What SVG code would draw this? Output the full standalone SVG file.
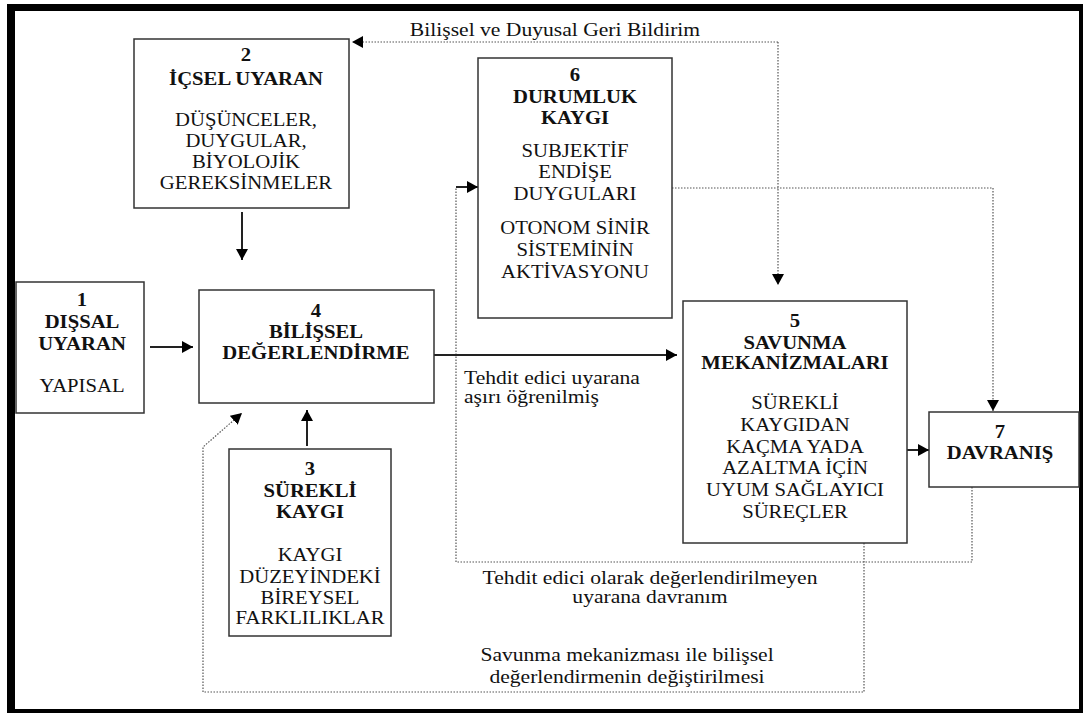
<svg xmlns="http://www.w3.org/2000/svg" width="1083" height="713" viewBox="0 0 1083 713">
<style>
.bx{fill:#fff;stroke:#333;stroke-width:1.5}
.t{font-family:"Liberation Serif","Times New Roman",serif;font-size:18px;fill:#111;text-anchor:middle}
.b{font-weight:bold}
.lb{font-family:"Liberation Serif","Times New Roman",serif;font-size:18px;fill:#111}
.sl{fill:none;stroke:#222;stroke-width:2}
.dl{fill:none;stroke:#555;stroke-width:1.2;stroke-dasharray:1.5 1.5}
</style>
<defs>
<marker id="ah" markerUnits="userSpaceOnUse" markerWidth="12" markerHeight="12" refX="11" refY="6" orient="auto">
<path d="M0,0 L11,6 L0,12 z" fill="#000"/>
</marker>
</defs>
<rect x="0" y="0" width="1083" height="713" fill="#fff"/>
<path d="M7,4 H1083 V713 H7 Z M15,11 V709 H1079 V11 Z" fill="#000" fill-rule="evenodd"/>

<g id="connectors">
<path class="dl" d="M778,42 H352" marker-end="url(#ah)"/>
<path class="dl" d="M778,42 V285" marker-end="url(#ah)"/>
<path class="dl" d="M672,188 H993 V411" marker-end="url(#ah)"/>
<path class="dl" d="M972,487 V562 H456 V187"/>
<path class="sl" d="M456,187 H478" marker-end="url(#ah)"/>
<path class="dl" d="M864,543 V692 H203 V447 L242,413" marker-end="url(#ah)"/>
<path class="sl" d="M242,212 V260" marker-end="url(#ah)"/>
<path class="sl" d="M150,347 H193" marker-end="url(#ah)"/>
<path class="sl" d="M434,355 H677" marker-end="url(#ah)"/>
<path class="sl" d="M307,446 V410" marker-end="url(#ah)"/>
<path class="sl" d="M907,450 H929" marker-end="url(#ah)"/>
<g transform="translate(555,0) scale(1.2,1)"><text class="lb" x="0" y="36" text-anchor="middle">Bilişsel ve Duyusal Geri Bildirim</text></g>
<g transform="translate(464,0) scale(1.2,1)">
<text class="lb" x="0" y="384">Tehdit edici uyarana</text>
<text class="lb" x="0" y="403">aşırı öğrenilmiş</text>
</g>
<g transform="translate(650,0) scale(1.2,1)">
<text class="lb" x="0" y="584" text-anchor="middle">Tehdit edici olarak değerlendirilmeyen</text>
<text class="lb" x="0" y="603" text-anchor="middle">uyarana davranım</text>
</g>
<g transform="translate(627,0) scale(1.2,1)">
<text class="lb" x="0" y="661" text-anchor="middle">Savunma mekanizması ile bilişsel</text>
<text class="lb" x="0" y="683" text-anchor="middle">değerlendirmenin değiştirilmesi</text>
</g>
</g>

<g id="node1">
<rect class="bx" x="16" y="282" width="128" height="131"/>
<g transform="translate(82,0) scale(1.15,1)">
<text class="t b" x="0" y="306">1</text>
<text class="t b" x="0" y="328">DIŞSAL</text>
<text class="t b" x="0" y="350">UYARAN</text>
<text class="t" x="0" y="392">YAPISAL</text>
</g>
</g>

<g id="node2">
<rect class="bx" x="134" y="39" width="215" height="169"/>
<g transform="translate(246,0) scale(1.15,1)">
<text class="t b" x="0" y="61">2</text>
<text class="t b" x="0" y="85">İÇSEL UYARAN</text>
<text class="t" x="0" y="126">DÜŞÜNCELER,</text>
<text class="t" x="0" y="147">DUYGULAR,</text>
<text class="t" x="0" y="168">BİYOLOJİK</text>
<text class="t" x="0" y="189">GEREKSİNMELER</text>
</g>
</g>

<g id="node3">
<rect class="bx" x="229" y="449" width="162" height="187"/>
<g transform="translate(310,0) scale(1.15,1)">
<text class="t b" x="0" y="475">3</text>
<text class="t b" x="0" y="497">SÜREKLİ</text>
<text class="t b" x="0" y="518">KAYGI</text>
<text class="t" x="0" y="561">KAYGI</text>
<text class="t" x="0" y="583">DÜZEYİNDEKİ</text>
<text class="t" x="0" y="604">BİREYSEL</text>
<text class="t" x="0" y="624">FARKLILIKLAR</text>
</g>
</g>

<g id="node4">
<rect class="bx" x="199" y="290" width="235" height="113"/>
<g transform="translate(316,0) scale(1.15,1)">
<text class="t b" x="0" y="317">4</text>
<text class="t b" x="0" y="338">BİLİŞSEL</text>
<text class="t b" x="0" y="359">DEĞERLENDİRME</text>
</g>
</g>

<g id="node5">
<rect class="bx" x="683" y="301" width="224" height="242"/>
<g transform="translate(795,0) scale(1.15,1)">
<text class="t b" x="0" y="327">5</text>
<text class="t b" x="0" y="349">SAVUNMA</text>
<text class="t b" x="0" y="369">MEKANİZMALARI</text>
<text class="t" x="0" y="409">SÜREKLİ</text>
<text class="t" x="0" y="431">KAYGIDAN</text>
<text class="t" x="0" y="453">KAÇMA YADA</text>
<text class="t" x="0" y="474">AZALTMA İÇİN</text>
<text class="t" x="0" y="496">UYUM SAĞLAYICI</text>
<text class="t" x="0" y="518">SÜREÇLER</text>
</g>
</g>

<g id="node6">
<rect class="bx" x="478" y="58" width="194" height="260"/>
<g transform="translate(575,0) scale(1.15,1)">
<text class="t b" x="0" y="81">6</text>
<text class="t b" x="0" y="103">DURUMLUK</text>
<text class="t b" x="0" y="124">KAYGI</text>
<text class="t" x="0" y="157">SUBJEKTİF</text>
<text class="t" x="0" y="178">ENDİŞE</text>
<text class="t" x="0" y="200">DUYGULARI</text>
<text class="t" x="0" y="234">OTONOM SİNİR</text>
<text class="t" x="0" y="256">SİSTEMİNİN</text>
<text class="t" x="0" y="278">AKTİVASYONU</text>
</g>
</g>

<g id="node7">
<rect class="bx" x="929" y="412" width="150" height="75"/>
<g transform="translate(1000,0) scale(1.15,1)">
<text class="t b" x="0" y="438">7</text>
<text class="t b" x="0" y="459">DAVRANIŞ</text>
</g>
</g>
</svg>
